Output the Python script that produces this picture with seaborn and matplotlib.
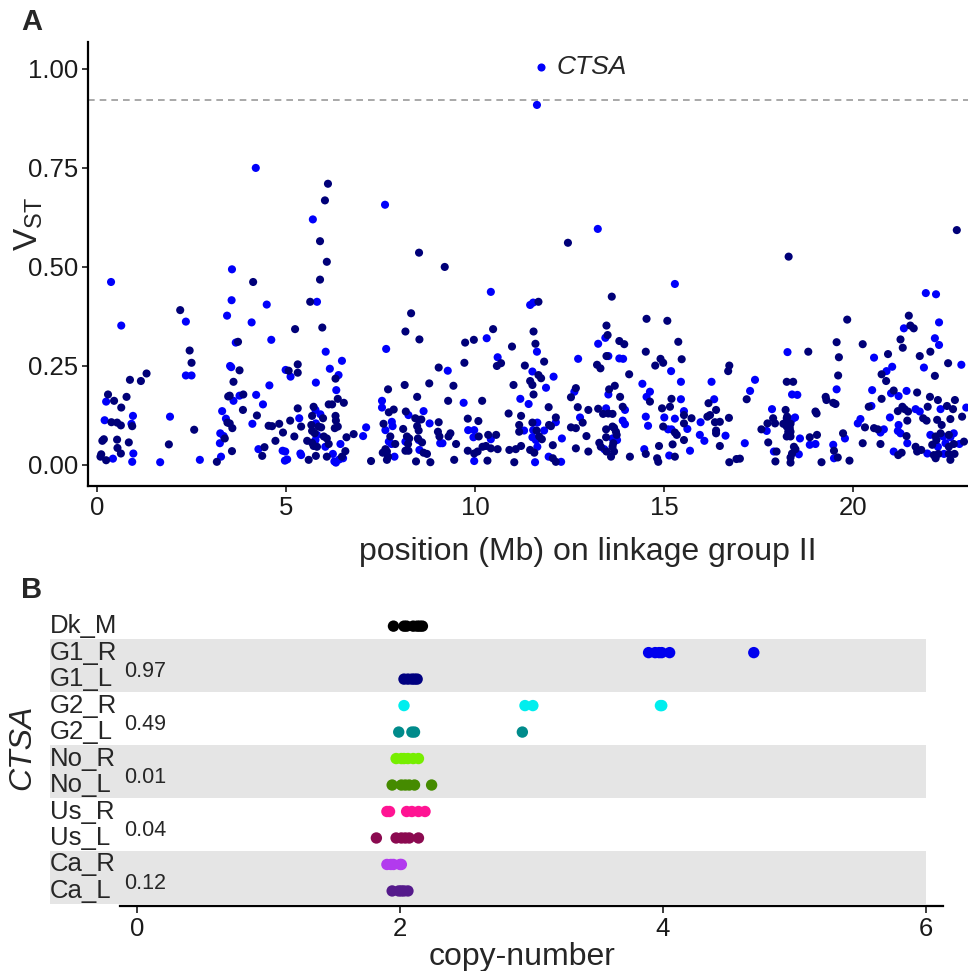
import numpy as np
import pandas as pd
import seaborn as sns
import matplotlib.pyplot as plt

# Panel A: Vst scan along linkage group II, two alternating colours
pos_blue = [0.37, 4.2, 5.71, 7.62, 3.57, 3.56, 11.64, 13.25, 15.29, 10.42, 21.93, 22.2,
            0.64, 2.35, 3.44, 4.09, 3.67, 2.35, 2.5, 3.52, 3.55, 0.24, 0.95, 0.91, 0.2, 1.93, 0.42, 0.96,
            0.93, 1.67, 2.72, 3.28, 3.31, 3.41, 3.26, 3.35, 3.25, 3.61, 3.77, 4.21, 4.39, 4.11, 4.27,
            4.49, 5.82, 4.61, 6.05, 6.48, 4.99, 5.12, 6.16, 6.39, 5.79, 4.56, 6.33, 5.78, 5.91, 5.35, 5.79,
            5.82, 5.78, 6.04, 6.44, 7.12, 7.04, 4.91, 4.98, 5.03, 4.97, 5.38, 5.4, 6.24, 6.28, 6.32, 6.41,
            6.51, 7.65, 7.54, 7.54, 8.24, 8.64, 7.8, 7.82, 8.8, 7.63, 7.72, 7.79, 8.16, 8.51, 9.08, 8.53, 7.87,
            11.46, 11.54, 10.31, 11.64, 13.45, 13.26, 13.53, 12.73, 10.6, 9.28, 11.52, 12.08, 11.88, 12.63,
            13.53, 11.2, 9.7, 11.42, 13.47, 12.14, 12.78, 11.65, 9.82, 9.98, 9.96, 10.42, 11.3, 11.54, 11.83,
            11.52, 11.61, 12.3, 13.64, 9.14, 11.65, 13.42, 9.98, 11.59, 11.95, 12.28,
            13.82, 13.92, 15.19, 17.41, 18.27, 14.43, 15.45, 16.26, 14.63, 14.54, 15.45, 16.33, 17.28, 13.97,
            15.53, 14.52, 15.01, 15.29, 13.91, 13.97, 14.58, 15.97, 15.11, 15.2, 15.62, 17.72, 17.86, 15.95,
            16.63, 13.76, 16.07, 17.14, 14.48, 15.69, 15.14, 17.91,
            21.35, 22.28, 22.17, 22.28, 20.56, 22.87, 21.88, 20.89, 21.04, 19.57, 20.51, 21.01, 21.21, 21.42,
            18.39, 18.53, 20.49, 21.66, 21.77, 22.32, 23.0, 18.47, 18.39, 20.98, 20.2, 20.13, 20.82, 20.73,
            21.21, 21.19, 21.26, 18.6, 18.86, 19.01, 19.79, 19.48, 18.57, 19.5, 21.08, 21.44, 21.97, 22.05,
            22.25, 22.39, 22.58, 22.67, 22.45, 22.82, 22.41]
vst_blue = [0.462, 0.75, 0.62, 0.657, 0.494, 0.416, 0.909, 0.596, 0.457, 0.437, 0.434, 0.431,
            0.352, 0.362, 0.377, 0.36, 0.309, 0.226, 0.226, 0.25, 0.247, 0.16, 0.124, 0.104, 0.113, 0.122, 0.016, 0.029,
            0.008, 0.007, 0.013, 0.021, 0.136, 0.117, 0.08, 0.073, 0.055, 0.162, 0.175, 0.177, 0.153, 0.104, 0.04,
            0.405, 0.412, 0.316, 0.286, 0.263, 0.24, 0.223, 0.243, 0.227, 0.208, 0.201, 0.189, 0.139, 0.128, 0.118, 0.105,
            0.076, 0.063, 0.046, 0.053, 0.095, 0.073, 0.036, 0.034, 0.014, 0.011, 0.029, 0.025, 0.028, 0.009, 0.006, 0.014,
            0.017, 0.293, 0.162, 0.145, 0.126, 0.136, 0.109, 0.098, 0.105, 0.088, 0.059, 0.053, 0.059, 0.063, 0.055, 0.038, 0.021,
            0.404, 0.41, 0.32, 0.286, 0.321, 0.306, 0.275, 0.268, 0.272, 0.238, 0.236, 0.223, 0.195, 0.185,
            0.178, 0.167, 0.157, 0.154, 0.143, 0.108, 0.12, 0.107, 0.088, 0.088, 0.07, 0.065, 0.087, 0.088, 0.087,
            0.07, 0.063, 0.067, 0.067, 0.055, 0.046, 0.04, 0.01, 0.007, 0.021, 0.008,
            0.269, 0.268, 0.237, 0.215, 0.285, 0.205, 0.21, 0.21, 0.185, 0.172, 0.166, 0.166, 0.187, 0.139,
            0.136, 0.122, 0.12, 0.117, 0.112, 0.103, 0.099, 0.108, 0.09, 0.09, 0.091, 0.086, 0.141, 0.076,
            0.074, 0.063, 0.061, 0.055, 0.04, 0.036, 0.024, 0.034,
            0.345, 0.36, 0.32, 0.303, 0.271, 0.253, 0.246, 0.237, 0.248, 0.191, 0.189, 0.181, 0.174, 0.187,
            0.178, 0.177, 0.149, 0.141, 0.135, 0.141, 0.145, 0.12, 0.115, 0.12, 0.116, 0.105, 0.09, 0.082,
            0.101, 0.086, 0.08, 0.067, 0.051, 0.053, 0.067, 0.051, 0.027, 0.017, 0.034, 0.055, 0.029, 0.076,
            0.046, 0.072, 0.07, 0.08, 0.055, 0.053, 0.028]

pos_navy = [6.11, 6.03, 5.9, 6.08, 8.52, 9.2, 5.9, 4.13, 12.46, 18.3, 22.75, 13.62,
            2.2, 3.73, 2.45, 2.5, 1.31, 1.16, 0.87, 3.77, 3.61, 0.29, 0.45, 0.78, 0.64, 0.93, 0.38, 0.53,
            0.63, 2.57, 0.18, 0.14, 0.53, 0.84, 0.54, 0.63, 0.11, 0.09, 0.24, 1.9, 3.17, 3.57, 3.45, 3.51,
            3.58, 3.38, 3.47, 3.51, 3.87, 3.86, 4.23, 4.43, 4.37,
            5.64, 5.24, 5.96, 5.31, 5.07, 5.31, 6.31, 6.37, 6.53, 6.13, 6.22, 5.31, 5.73, 5.69, 5.98, 6.31,
            6.32, 5.11, 4.54, 4.63, 4.82, 5.4, 5.67, 5.86, 5.93, 6.29, 6.37, 4.92, 5.69, 5.76, 6.0, 5.22,
            4.72, 5.56, 5.69, 6.08, 6.13, 5.73, 5.82, 6.6, 6.79, 5.6, 5.79, 6.08, 6.48, 6.57, 7.25,
            8.31, 8.16, 8.53, 9.04, 8.79, 8.14, 7.7, 8.47, 7.72, 7.85, 8.17, 7.58, 8.42, 8.51, 8.58, 8.47,
            8.51, 9.04, 8.1, 9.02, 7.76, 8.2, 8.26, 8.49, 7.89, 8.23, 8.6, 7.63, 7.67, 8.16, 8.24, 8.64,
            8.73, 7.7, 7.67, 8.44, 8.82, 7.56,
            11.68, 10.48, 9.74, 9.97, 10.98, 11.55, 11.6, 13.48, 13.51, 13.48, 10.69, 10.58, 9.72, 11.83,
            11.32, 11.68, 11.75, 13.23, 13.32, 11.46, 11.52, 11.02, 9.43, 11.55, 12.67, 12.54, 13.55, 9.29,
            10.19, 11.95, 10.89, 11.22, 12.72, 13.0, 13.26, 13.53, 13.64, 13.39, 12.14, 12.85, 9.81, 10.09,
            11.17, 11.52, 11.96, 12.01, 12.54, 12.67, 13.47, 13.64, 9.06, 9.35, 9.3, 10.1, 10.35, 10.56,
            11.17, 11.63, 11.7, 11.77, 12.95, 13.47, 9.5, 10.2, 10.29, 10.42, 10.6, 10.91, 11.08, 11.22,
            11.46, 11.57, 12.06, 12.67, 13.29, 13.33, 13.48, 13.64, 13.6, 9.81, 9.98, 10.07, 9.45, 10.33,
            11.04, 12.06, 12.14, 13.0,
            14.54, 15.09, 15.38, 13.82, 13.95, 14.52, 14.91, 14.98, 15.47, 14.77, 14.08, 16.73, 16.7, 14.63,
            15.2, 16.18, 17.19, 18.25, 13.7, 13.84, 13.91, 14.95, 15.16, 15.53, 15.73, 16.22, 16.15, 16.38,
            16.72, 15.53, 16.35, 16.48, 14.98, 13.68, 13.73, 15.29, 15.34, 16.38, 16.38, 17.58, 17.74, 17.89,
            17.94, 18.16, 18.25, 18.22, 13.75, 13.66, 13.68, 15.53, 15.23, 14.87, 16.48, 14.52, 14.1, 14.82,
            14.85, 15.29, 16.73, 16.92, 17.01, 17.76, 17.98, 17.95, 18.25, 18.29, 18.25,
            19.85, 21.48, 21.52, 21.61, 21.26, 21.32, 19.57, 20.26, 18.82, 19.63, 20.93, 21.77, 22.05, 22.52,
            20.76, 19.61, 22.17, 18.42, 20.88, 21.08, 21.7, 22.04, 19.28, 19.3, 19.48, 19.54, 20.76, 22.25,
            22.7, 20.42, 21.31, 21.37, 21.98, 22.49, 22.65, 19.01, 19.04, 18.26, 21.19, 21.46, 21.86, 21.95,
            22.23, 22.35, 22.58, 22.89, 21.44, 20.32, 20.56, 20.66, 21.42, 18.35, 18.33, 18.35, 18.35, 18.86,
            19.05, 19.74, 20.26, 20.73, 19.5, 18.44, 18.48, 18.39, 18.35, 18.35, 19.6, 19.17, 19.91, 21.2,
            21.29, 21.66, 21.7, 21.81, 22.19, 22.21, 22.1, 22.32, 22.54, 22.54, 22.67, 22.94, 22.14, 22.26,
            22.54, 22.58, 22.69, 22.19]
vst_navy = [0.71, 0.668, 0.565, 0.513, 0.536, 0.5, 0.468, 0.462, 0.561, 0.526, 0.593, 0.425,
            0.391, 0.311, 0.289, 0.258, 0.231, 0.212, 0.215, 0.239, 0.21, 0.178, 0.162, 0.172, 0.145, 0.098, 0.108, 0.107,
            0.1, 0.089, 0.065, 0.061, 0.064, 0.057, 0.043, 0.029, 0.027, 0.021, 0.012, 0.052, 0.008, 0.035, 0.107, 0.105,
            0.093, 0.067, 0.173, 0.175, 0.178, 0.139, 0.125, 0.045, 0.023,
            0.412, 0.343, 0.347, 0.254, 0.238, 0.233, 0.218, 0.167, 0.157, 0.153, 0.153, 0.143, 0.147, 0.124, 0.118, 0.124,
            0.112, 0.112, 0.099, 0.098, 0.104, 0.097, 0.101, 0.097, 0.095, 0.093, 0.097, 0.082, 0.086, 0.08, 0.072, 0.072,
            0.061, 0.061, 0.056, 0.067, 0.053, 0.048, 0.046, 0.07, 0.078, 0.013, 0.023, 0.021, 0.021, 0.035, 0.01,
            0.383, 0.337, 0.317, 0.246, 0.206, 0.202, 0.191, 0.172, 0.133, 0.14, 0.135, 0.104, 0.118, 0.114, 0.115, 0.098,
            0.087, 0.108, 0.091, 0.084, 0.072, 0.072, 0.067, 0.067, 0.053, 0.053, 0.057, 0.04, 0.034, 0.036, 0.036, 0.031,
            0.028, 0.021, 0.013, 0.009, 0.007, 0.031,
            0.412, 0.343, 0.309, 0.316, 0.299, 0.337, 0.306, 0.352, 0.328, 0.275, 0.257, 0.25, 0.258, 0.261,
            0.251, 0.227, 0.219, 0.253, 0.244, 0.212, 0.202, 0.202, 0.2, 0.178, 0.194, 0.171, 0.191, 0.162,
            0.162, 0.146, 0.13, 0.124, 0.146, 0.139, 0.142, 0.13, 0.129, 0.129, 0.12, 0.107, 0.117, 0.111,
            0.101, 0.107, 0.101, 0.098, 0.095, 0.093, 0.09, 0.097, 0.072, 0.08, 0.072, 0.072, 0.076, 0.076,
            0.084, 0.087, 0.072, 0.065, 0.073, 0.07, 0.053, 0.046, 0.048, 0.042, 0.04, 0.038, 0.04, 0.048,
            0.038, 0.031, 0.05, 0.042, 0.056, 0.046, 0.034, 0.046, 0.021, 0.036, 0.029, 0.034, 0.013, 0.011,
            0.007, 0.017, 0.008, 0.034,
            0.369, 0.364, 0.311, 0.313, 0.305, 0.286, 0.268, 0.258, 0.267, 0.251, 0.229, 0.251, 0.237, 0.16,
            0.167, 0.156, 0.166, 0.21, 0.2, 0.172, 0.147, 0.143, 0.147, 0.126, 0.118, 0.126, 0.122, 0.139,
            0.119, 0.105, 0.108, 0.109, 0.097, 0.094, 0.084, 0.082, 0.076, 0.087, 0.08, 0.09, 0.105, 0.118,
            0.105, 0.104, 0.118, 0.139, 0.076, 0.055, 0.034, 0.063, 0.052, 0.048, 0.048, 0.028, 0.021, 0.017,
            0.008, 0.021, 0.007, 0.015, 0.016, 0.057, 0.034, 0.009, 0.072, 0.084, 0.097,
            0.367, 0.377, 0.352, 0.345, 0.317, 0.296, 0.31, 0.305, 0.286, 0.272, 0.28, 0.275, 0.286, 0.257,
            0.229, 0.226, 0.225, 0.21, 0.212, 0.188, 0.183, 0.172, 0.172, 0.164, 0.157, 0.154, 0.167, 0.164,
            0.164, 0.147, 0.147, 0.141, 0.147, 0.149, 0.141, 0.135, 0.13, 0.122, 0.136, 0.135, 0.118, 0.112,
            0.114, 0.101, 0.116, 0.122, 0.112, 0.095, 0.093, 0.09, 0.073, 0.104, 0.093, 0.084, 0.072, 0.07,
            0.076, 0.08, 0.055, 0.053, 0.036, 0.046, 0.04, 0.029, 0.019, 0.006, 0.019, 0.007, 0.011, 0.025,
            0.031, 0.046, 0.034, 0.038, 0.072, 0.063, 0.051, 0.08, 0.076, 0.046, 0.053, 0.059, 0.025, 0.028,
            0.028, 0.013, 0.028, 0.017]

label_pos = [11.75]
label_vst = [1.005]
threshold = 0.922

# Panel B: CTSA copy-number per population sample
pops = ["Dk_M", "G1_R", "G1_L", "G2_R", "G2_L", "No_R", "No_L", "Us_R", "Us_L", "Ca_R", "Ca_L"]
cn_dk_m = [1.95, 2.03, 2.05, 2.10, 2.13, 2.15, 2.17]
cn_g1_r = [3.89, 3.94, 3.97, 3.99, 4.05, 4.69]
cn_g1_l = [2.03, 2.06, 2.09, 2.11, 2.13]
cn_g2_r = [2.03, 2.95, 3.01, 3.98, 3.99]
cn_g2_l = [1.99, 2.09, 2.11, 2.93]
cn_no_r = [1.97, 2.01, 2.03, 2.06, 2.10, 2.14]
cn_no_l = [1.94, 2.01, 2.04, 2.07, 2.11, 2.24]
cn_us_r = [1.90, 1.92, 2.05, 2.09, 2.14, 2.19]
cn_us_l = [1.82, 1.97, 2.01, 2.04, 2.07, 2.14]
cn_ca_r = [1.90, 1.93, 1.95, 2.00, 2.01]
cn_ca_l = [1.94, 1.99, 2.01, 2.03, 2.06]
pop_colors = ["#000000", "#0000EE", "#000080", "#00EEEE", "#008B8B", "#76EE00",
              "#458B00", "#FF1493", "#8B0A50", "#B23AEE", "#551A8B"]
pair_vst = ["0.97", "0.49", "0.01", "0.04", "0.12"]

sns.set_style("ticks")
plt.rcParams['font.family'] = ['Liberation Sans', 'DejaVu Sans']

df_a = pd.DataFrame({
    "pos": pos_blue + pos_navy,
    "vst": vst_blue + vst_navy,
    "col": ["blue"] * len(pos_blue) + ["navy"] * len(pos_navy),
})

cn_lists = [cn_dk_m, cn_g1_r, cn_g1_l, cn_g2_r, cn_g2_l, cn_no_r, cn_no_l,
            cn_us_r, cn_us_l, cn_ca_r, cn_ca_l]
rows = []
for p, vals in zip(pops, cn_lists):
    for v in vals:
        rows.append((p, v))
df_b = pd.DataFrame(rows, columns=["pop", "cn"])

fig = plt.figure(figsize=(9.68, 9.71), dpi=100)

# ---- panel A
axA = fig.add_axes([0.0909, 0.4995, 1.033, 0.4573])
sns.scatterplot(data=df_a, x="pos", y="vst", hue="col",
                palette={"blue": "#0000FA", "navy": "#000078"},
                s=34, linewidth=0, legend=False, ax=axA)
axA.axhline(threshold, color="#9a9a9a", lw=1.2, ls=(0, (4, 3)), zorder=0)
axA.scatter(label_pos, label_vst, s=34, color="#0000FA", linewidth=0)
axA.text(label_pos[0] + 0.42, label_vst[0], "CTSA", style="italic", fontsize=19, va="center")
axA.set_xlim(-0.24, 26.22)
axA.set_ylim(-0.053, 1.068)
axA.set_xticks([0, 5, 10, 15, 20])
axA.set_yticks([0, 0.25, 0.5, 0.75, 1.0])
axA.set_yticklabels(["0.00", "0.25", "0.50", "0.75", "1.00"])
axA.tick_params(labelsize=18.5, length=4, width=1.2, pad=3, colors="#1a1a1a")
for s in ["top", "right"]:
    axA.spines[s].set_visible(False)
for s in ["left", "bottom"]:
    axA.spines[s].set_linewidth(1.6)
    axA.spines[s].set_color("black")
axA.set_xlabel("position (Mb) on linkage group II", fontsize=23)
axA.xaxis.set_label_coords(0.5, -0.115)
axA.set_ylabel(r"$\mathregular{V_{ST}}$", fontsize=24)
axA.yaxis.set_label_coords(-0.043, 0.59)

# ---- panel B
axB = fig.add_axes([0.0496, 0.0669, 0.9246, 0.3079])
for i in [1, 5, 9]:
    axB.fill_betweenx([i - 0.5, i + 1.5], -0.66, 6.0, color="#E5E5E5", lw=0, zorder=0)
sns.stripplot(data=df_b, x="cn", y="pop", hue="pop", order=pops, hue_order=pops,
              palette=pop_colors, jitter=False, size=8.2, linewidth=0, legend=False, ax=axB)
axB.set_ylim(10.57, -0.72)
axB.set_xlim(-0.677, 6.129)
for i, p in enumerate(pops):
    axB.text(-0.665, i, p, fontsize=18.5, va="center", ha="left")
for k, txt in enumerate(pair_vst):
    axB.text(-0.1, 2 * k + 1.72, txt, fontsize=15.5, va="center", ha="left")
axB.set_xticks([0, 2, 4, 6])
axB.tick_params(axis="x", labelsize=18.5, length=5, width=1.2, pad=3, colors="#1a1a1a")
axB.tick_params(axis="y", left=False, labelleft=False)
for s in ["top", "right", "left"]:
    axB.spines[s].set_visible(False)
axB.spines["bottom"].set_bounds(-0.13, 6.13)
axB.spines["bottom"].set_linewidth(1.6)
axB.spines["bottom"].set_color("black")
axB.set_xlabel("copy-number", fontsize=23)
axB.xaxis.set_label_coords(0.53, -0.12)
axB.set_ylabel("CTSA", fontsize=23, style="italic")
axB.yaxis.set_label_coords(-0.012, 0.53)

fig.text(0.022, 1 - 22 / 971, "A", fontsize=21, fontweight="bold", va="center")
fig.text(0.022, 1 - 590 / 971, "B", fontsize=21, fontweight="bold", va="center")

fig.savefig("out.png", dpi=100)
